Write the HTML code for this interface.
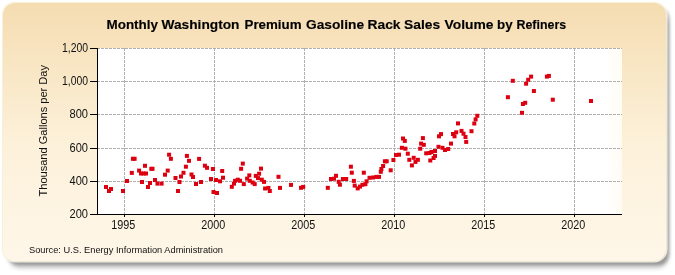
<!DOCTYPE html>
<html><head><meta charset="utf-8">
<style>
html,body{margin:0;padding:0;background:#fff;width:675px;height:275px;overflow:hidden}
.panel{position:absolute;left:3px;top:3px;width:663px;height:258px;border-radius:12px;
background:linear-gradient(to bottom,#F5DCB1 0%,#F9E8C8 30%,#FDF1DA 55%,#FEF6E8 100%);box-shadow:0 0 1px 0.5px rgba(240,230,190,0.6), 0 0 0 1.5px rgba(255,255,255,0.8), 4px 4px 3px 0px rgba(0,0,0,0.22), 4px 9px 4px -2px rgba(0,0,0,0.24);}
svg{position:absolute;left:0;top:0;will-change:transform}
text{font-family:"Liberation Sans",sans-serif}
</style></head><body>
<div class="panel"></div>
<svg width="675" height="275" viewBox="0 0 675 275">
<defs><linearGradient id="pg" x1="0" x2="1" y1="0" y2="0"><stop offset="0" stop-color="#fff"/><stop offset="0.965" stop-color="#fff"/><stop offset="1" stop-color="#FFFCF4"/></linearGradient></defs><rect x="98" y="48" width="524" height="166" fill="url(#pg)"/>
<g stroke="#b0b0b0" stroke-width="1" stroke-dasharray="3 1" shape-rendering="crispEdges"><line x1="97" y1="48.5" x2="622" y2="48.5"/><line x1="97" y1="81.5" x2="622" y2="81.5"/><line x1="97" y1="114.5" x2="622" y2="114.5"/><line x1="97" y1="148.5" x2="622" y2="148.5"/><line x1="97" y1="181.5" x2="622" y2="181.5"/></g>
<g stroke="#b0b0b0" stroke-width="1" stroke-dasharray="3 1" shape-rendering="crispEdges"><line x1="124.5" y1="48" x2="124.5" y2="214"/><line x1="214.5" y1="48" x2="214.5" y2="214"/><line x1="304.5" y1="48" x2="304.5" y2="214"/><line x1="394.5" y1="48" x2="394.5" y2="214"/><line x1="484.5" y1="48" x2="484.5" y2="214"/><line x1="574.5" y1="48" x2="574.5" y2="214"/></g>
<g fill="#DC0010"><rect x="104.0" y="185.0" width="4" height="4"/>
<rect x="107.0" y="189.0" width="4" height="4"/>
<rect x="109.0" y="187.0" width="4" height="4"/>
<rect x="121.0" y="189.0" width="4" height="4"/>
<rect x="125.0" y="179.0" width="4" height="4"/>
<rect x="129.8" y="170.9" width="4" height="4"/>
<rect x="130.9" y="156.8" width="4" height="4"/>
<rect x="132.6" y="156.8" width="4" height="4"/>
<rect x="137.1" y="168.6" width="4" height="4"/>
<rect x="139.0" y="171.5" width="4" height="4"/>
<rect x="141.5" y="171.5" width="4" height="4"/>
<rect x="144.0" y="171.5" width="4" height="4"/>
<rect x="143.0" y="163.8" width="4" height="4"/>
<rect x="140.0" y="180.0" width="4" height="4"/>
<rect x="146.0" y="185.0" width="4" height="4"/>
<rect x="148.0" y="181.0" width="4" height="4"/>
<rect x="149.3" y="166.8" width="4" height="4"/>
<rect x="150.5" y="166.8" width="4" height="4"/>
<rect x="153.0" y="178.0" width="4" height="4"/>
<rect x="155.5" y="181.6" width="4" height="4"/>
<rect x="159.6" y="181.6" width="4" height="4"/>
<rect x="163.0" y="172.7" width="4" height="4"/>
<rect x="165.7" y="168.6" width="4" height="4"/>
<rect x="167.1" y="152.7" width="4" height="4"/>
<rect x="168.9" y="156.8" width="4" height="4"/>
<rect x="173.5" y="176.0" width="4" height="4"/>
<rect x="177.5" y="180.0" width="4" height="4"/>
<rect x="176.0" y="189.0" width="4" height="4"/>
<rect x="179.0" y="174.5" width="4" height="4"/>
<rect x="181.5" y="170.8" width="4" height="4"/>
<rect x="184.9" y="153.9" width="4" height="4"/>
<rect x="187.0" y="158.8" width="4" height="4"/>
<rect x="183.9" y="164.7" width="4" height="4"/>
<rect x="189.5" y="172.5" width="4" height="4"/>
<rect x="191.0" y="175.0" width="4" height="4"/>
<rect x="194.0" y="182.0" width="4" height="4"/>
<rect x="197.1" y="156.9" width="4" height="4"/>
<rect x="199.0" y="180.0" width="4" height="4"/>
<rect x="202.9" y="163.7" width="4" height="4"/>
<rect x="205.0" y="165.8" width="4" height="4"/>
<rect x="210.9" y="167.0" width="4" height="4"/>
<rect x="209.0" y="177.0" width="4" height="4"/>
<rect x="214.0" y="178.0" width="4" height="4"/>
<rect x="218.0" y="179.3" width="4" height="4"/>
<rect x="221.0" y="175.7" width="4" height="4"/>
<rect x="220.2" y="169.0" width="4" height="4"/>
<rect x="211.5" y="190.0" width="4" height="4"/>
<rect x="215.0" y="191.0" width="4" height="4"/>
<rect x="239.1" y="166.8" width="4" height="4"/>
<rect x="240.8" y="161.6" width="4" height="4"/>
<rect x="229.8" y="184.8" width="4" height="4"/>
<rect x="232.0" y="181.6" width="4" height="4"/>
<rect x="233.1" y="178.8" width="4" height="4"/>
<rect x="235.8" y="177.7" width="4" height="4"/>
<rect x="238.0" y="178.8" width="4" height="4"/>
<rect x="241.8" y="182.1" width="4" height="4"/>
<rect x="245.1" y="176.6" width="4" height="4"/>
<rect x="247.3" y="173.4" width="4" height="4"/>
<rect x="247.8" y="178.8" width="4" height="4"/>
<rect x="250.6" y="180.5" width="4" height="4"/>
<rect x="252.7" y="182.1" width="4" height="4"/>
<rect x="253.8" y="173.9" width="4" height="4"/>
<rect x="257.1" y="171.7" width="4" height="4"/>
<rect x="256.0" y="176.1" width="4" height="4"/>
<rect x="259.0" y="166.6" width="4" height="4"/>
<rect x="259.8" y="177.7" width="4" height="4"/>
<rect x="262.0" y="179.9" width="4" height="4"/>
<rect x="263.1" y="186.5" width="4" height="4"/>
<rect x="266.4" y="185.9" width="4" height="4"/>
<rect x="267.8" y="189.0" width="4" height="4"/>
<rect x="276.5" y="174.8" width="4" height="4"/>
<rect x="278.0" y="185.9" width="4" height="4"/>
<rect x="289.0" y="182.9" width="4" height="4"/>
<rect x="299.0" y="185.8" width="4" height="4"/>
<rect x="301.2" y="184.9" width="4" height="4"/>
<rect x="325.8" y="185.8" width="4" height="4"/>
<rect x="329.0" y="177.0" width="4" height="4"/>
<rect x="332.0" y="176.7" width="4" height="4"/>
<rect x="334.0" y="173.8" width="4" height="4"/>
<rect x="336.7" y="179.8" width="4" height="4"/>
<rect x="337.9" y="182.7" width="4" height="4"/>
<rect x="340.9" y="177.0" width="4" height="4"/>
<rect x="344.2" y="177.0" width="4" height="4"/>
<rect x="348.9" y="164.7" width="4" height="4"/>
<rect x="349.8" y="170.7" width="4" height="4"/>
<rect x="351.9" y="178.9" width="4" height="4"/>
<rect x="352.7" y="183.6" width="4" height="4"/>
<rect x="355.7" y="186.4" width="4" height="4"/>
<rect x="358.0" y="184.6" width="4" height="4"/>
<rect x="360.4" y="182.8" width="4" height="4"/>
<rect x="363.4" y="182.2" width="4" height="4"/>
<rect x="361.8" y="170.7" width="4" height="4"/>
<rect x="364.6" y="179.3" width="4" height="4"/>
<rect x="367.5" y="175.8" width="4" height="4"/>
<rect x="371.1" y="175.5" width="4" height="4"/>
<rect x="374.3" y="174.9" width="4" height="4"/>
<rect x="377.0" y="174.9" width="4" height="4"/>
<rect x="378.8" y="169.8" width="4" height="4"/>
<rect x="379.4" y="167.0" width="4" height="4"/>
<rect x="381.1" y="164.0" width="4" height="4"/>
<rect x="382.9" y="159.3" width="4" height="4"/>
<rect x="384.7" y="159.3" width="4" height="4"/>
<rect x="388.7" y="168.3" width="4" height="4"/>
<rect x="391.4" y="158.0" width="4" height="4"/>
<rect x="394.0" y="153.0" width="4" height="4"/>
<rect x="397.0" y="152.7" width="4" height="4"/>
<rect x="401.0" y="136.5" width="4" height="4"/>
<rect x="402.8" y="138.9" width="4" height="4"/>
<rect x="399.9" y="145.8" width="4" height="4"/>
<rect x="403.4" y="146.7" width="4" height="4"/>
<rect x="405.8" y="151.7" width="4" height="4"/>
<rect x="407.3" y="157.8" width="4" height="4"/>
<rect x="411.7" y="155.8" width="4" height="4"/>
<rect x="415.9" y="157.8" width="4" height="4"/>
<rect x="413.5" y="159.9" width="4" height="4"/>
<rect x="409.9" y="163.4" width="4" height="4"/>
<rect x="420.9" y="136.1" width="4" height="4"/>
<rect x="419.1" y="141.6" width="4" height="4"/>
<rect x="421.8" y="142.8" width="4" height="4"/>
<rect x="418.2" y="146.7" width="4" height="4"/>
<rect x="424.2" y="151.3" width="4" height="4"/>
<rect x="427.5" y="151.0" width="4" height="4"/>
<rect x="429.5" y="150.0" width="4" height="4"/>
<rect x="433.0" y="149.0" width="4" height="4"/>
<rect x="433.0" y="153.9" width="4" height="4"/>
<rect x="431.6" y="156.0" width="4" height="4"/>
<rect x="428.3" y="158.5" width="4" height="4"/>
<rect x="436.5" y="144.8" width="4" height="4"/>
<rect x="440.5" y="145.8" width="4" height="4"/>
<rect x="443.0" y="148.0" width="4" height="4"/>
<rect x="446.2" y="147.0" width="4" height="4"/>
<rect x="449.0" y="141.6" width="4" height="4"/>
<rect x="437.0" y="134.3" width="4" height="4"/>
<rect x="439.0" y="132.1" width="4" height="4"/>
<rect x="451.0" y="132.0" width="4" height="4"/>
<rect x="452.5" y="134.3" width="4" height="4"/>
<rect x="454.2" y="130.3" width="4" height="4"/>
<rect x="456.0" y="121.4" width="4" height="4"/>
<rect x="459.5" y="128.9" width="4" height="4"/>
<rect x="461.5" y="131.7" width="4" height="4"/>
<rect x="463.5" y="135.0" width="4" height="4"/>
<rect x="464.2" y="139.9" width="4" height="4"/>
<rect x="469.5" y="129.2" width="4" height="4"/>
<rect x="472.3" y="121.5" width="4" height="4"/>
<rect x="473.6" y="117.4" width="4" height="4"/>
<rect x="475.3" y="113.8" width="4" height="4"/>
<rect x="505.9" y="95.2" width="4" height="4"/>
<rect x="510.8" y="78.8" width="4" height="4"/>
<rect x="520.0" y="110.8" width="4" height="4"/>
<rect x="520.9" y="102.0" width="4" height="4"/>
<rect x="523.2" y="100.8" width="4" height="4"/>
<rect x="524.1" y="81.7" width="4" height="4"/>
<rect x="526.2" y="77.8" width="4" height="4"/>
<rect x="529.1" y="74.6" width="4" height="4"/>
<rect x="531.9" y="89.0" width="4" height="4"/>
<rect x="544.9" y="74.6" width="4" height="4"/>
<rect x="546.9" y="73.9" width="4" height="4"/>
<rect x="550.8" y="97.7" width="4" height="4"/>
<rect x="589.0" y="99.0" width="4" height="4"/></g>
<g stroke="#000" stroke-width="1" shape-rendering="crispEdges">
<line x1="97.5" y1="48" x2="97.5" y2="215"/><line x1="97" y1="214.5" x2="622" y2="214.5"/>
<line x1="90" y1="48.5" x2="97" y2="48.5"/><line x1="90" y1="81.5" x2="97" y2="81.5"/><line x1="90" y1="114.5" x2="97" y2="114.5"/><line x1="90" y1="148.5" x2="97" y2="148.5"/><line x1="90" y1="181.5" x2="97" y2="181.5"/><line x1="90" y1="214.5" x2="97" y2="214.5"/><line x1="124.5" y1="214" x2="124.5" y2="217"/><line x1="214.5" y1="214" x2="214.5" y2="217"/><line x1="304.5" y1="214" x2="304.5" y2="217"/><line x1="394.5" y1="214" x2="394.5" y2="217"/><line x1="484.5" y1="214" x2="484.5" y2="217"/><line x1="574.5" y1="214" x2="574.5" y2="217"/></g>
<g font-weight="bold" font-size="13.5" fill="#000" stroke="#000" stroke-width="0.15"><text x="106.5" y="28.8" textLength="51.52" lengthAdjust="spacingAndGlyphs">Monthly</text><text x="161.5" y="28.8" textLength="78.01" lengthAdjust="spacingAndGlyphs">Washington</text><text x="244.5" y="28.8" textLength="57.06" lengthAdjust="spacingAndGlyphs">Premium</text><text x="306.0" y="28.8" textLength="58.03" lengthAdjust="spacingAndGlyphs">Gasoline</text><text x="367.5" y="28.8" textLength="33.05" lengthAdjust="spacingAndGlyphs">Rack</text><text x="404.0" y="28.8" textLength="36.09" lengthAdjust="spacingAndGlyphs">Sales</text><text x="444.5" y="28.8" textLength="49.04" lengthAdjust="spacingAndGlyphs">Volume</text><text x="497.0" y="28.8" textLength="15.58" lengthAdjust="spacingAndGlyphs">by</text><text x="516.5" y="28.8" textLength="49.62" lengthAdjust="spacingAndGlyphs">Refiners</text></g>
<g font-size="12" fill="#111"><text x="88" y="52" text-anchor="end" textLength="26" lengthAdjust="spacingAndGlyphs">1,200</text><text x="88" y="85" text-anchor="end" textLength="26" lengthAdjust="spacingAndGlyphs">1,000</text><text x="88" y="118" text-anchor="end" textLength="18.5" lengthAdjust="spacingAndGlyphs">800</text><text x="88" y="152" text-anchor="end" textLength="18.5" lengthAdjust="spacingAndGlyphs">600</text><text x="88" y="185" text-anchor="end" textLength="18.5" lengthAdjust="spacingAndGlyphs">400</text><text x="88" y="218" text-anchor="end" textLength="18.5" lengthAdjust="spacingAndGlyphs">200</text><text x="123.2" y="228.5" text-anchor="middle" textLength="24" lengthAdjust="spacingAndGlyphs">1995</text><text x="213.2" y="228.5" text-anchor="middle" textLength="24" lengthAdjust="spacingAndGlyphs">2000</text><text x="303.2" y="228.5" text-anchor="middle" textLength="24" lengthAdjust="spacingAndGlyphs">2005</text><text x="393.2" y="228.5" text-anchor="middle" textLength="24" lengthAdjust="spacingAndGlyphs">2010</text><text x="483.2" y="228.5" text-anchor="middle" textLength="24" lengthAdjust="spacingAndGlyphs">2015</text><text x="573.2" y="228.5" text-anchor="middle" textLength="24" lengthAdjust="spacingAndGlyphs">2020</text></g>
<text transform="translate(47.3,196.5) rotate(-90)" font-size="11.5" fill="#111" textLength="131.5" lengthAdjust="spacingAndGlyphs">Thousand Gallons per Day</text>
<text x="29" y="252.7" font-size="9.5" fill="#111" textLength="194" lengthAdjust="spacingAndGlyphs">Source: U.S. Energy Information Administration</text>
</svg>
</body></html>
